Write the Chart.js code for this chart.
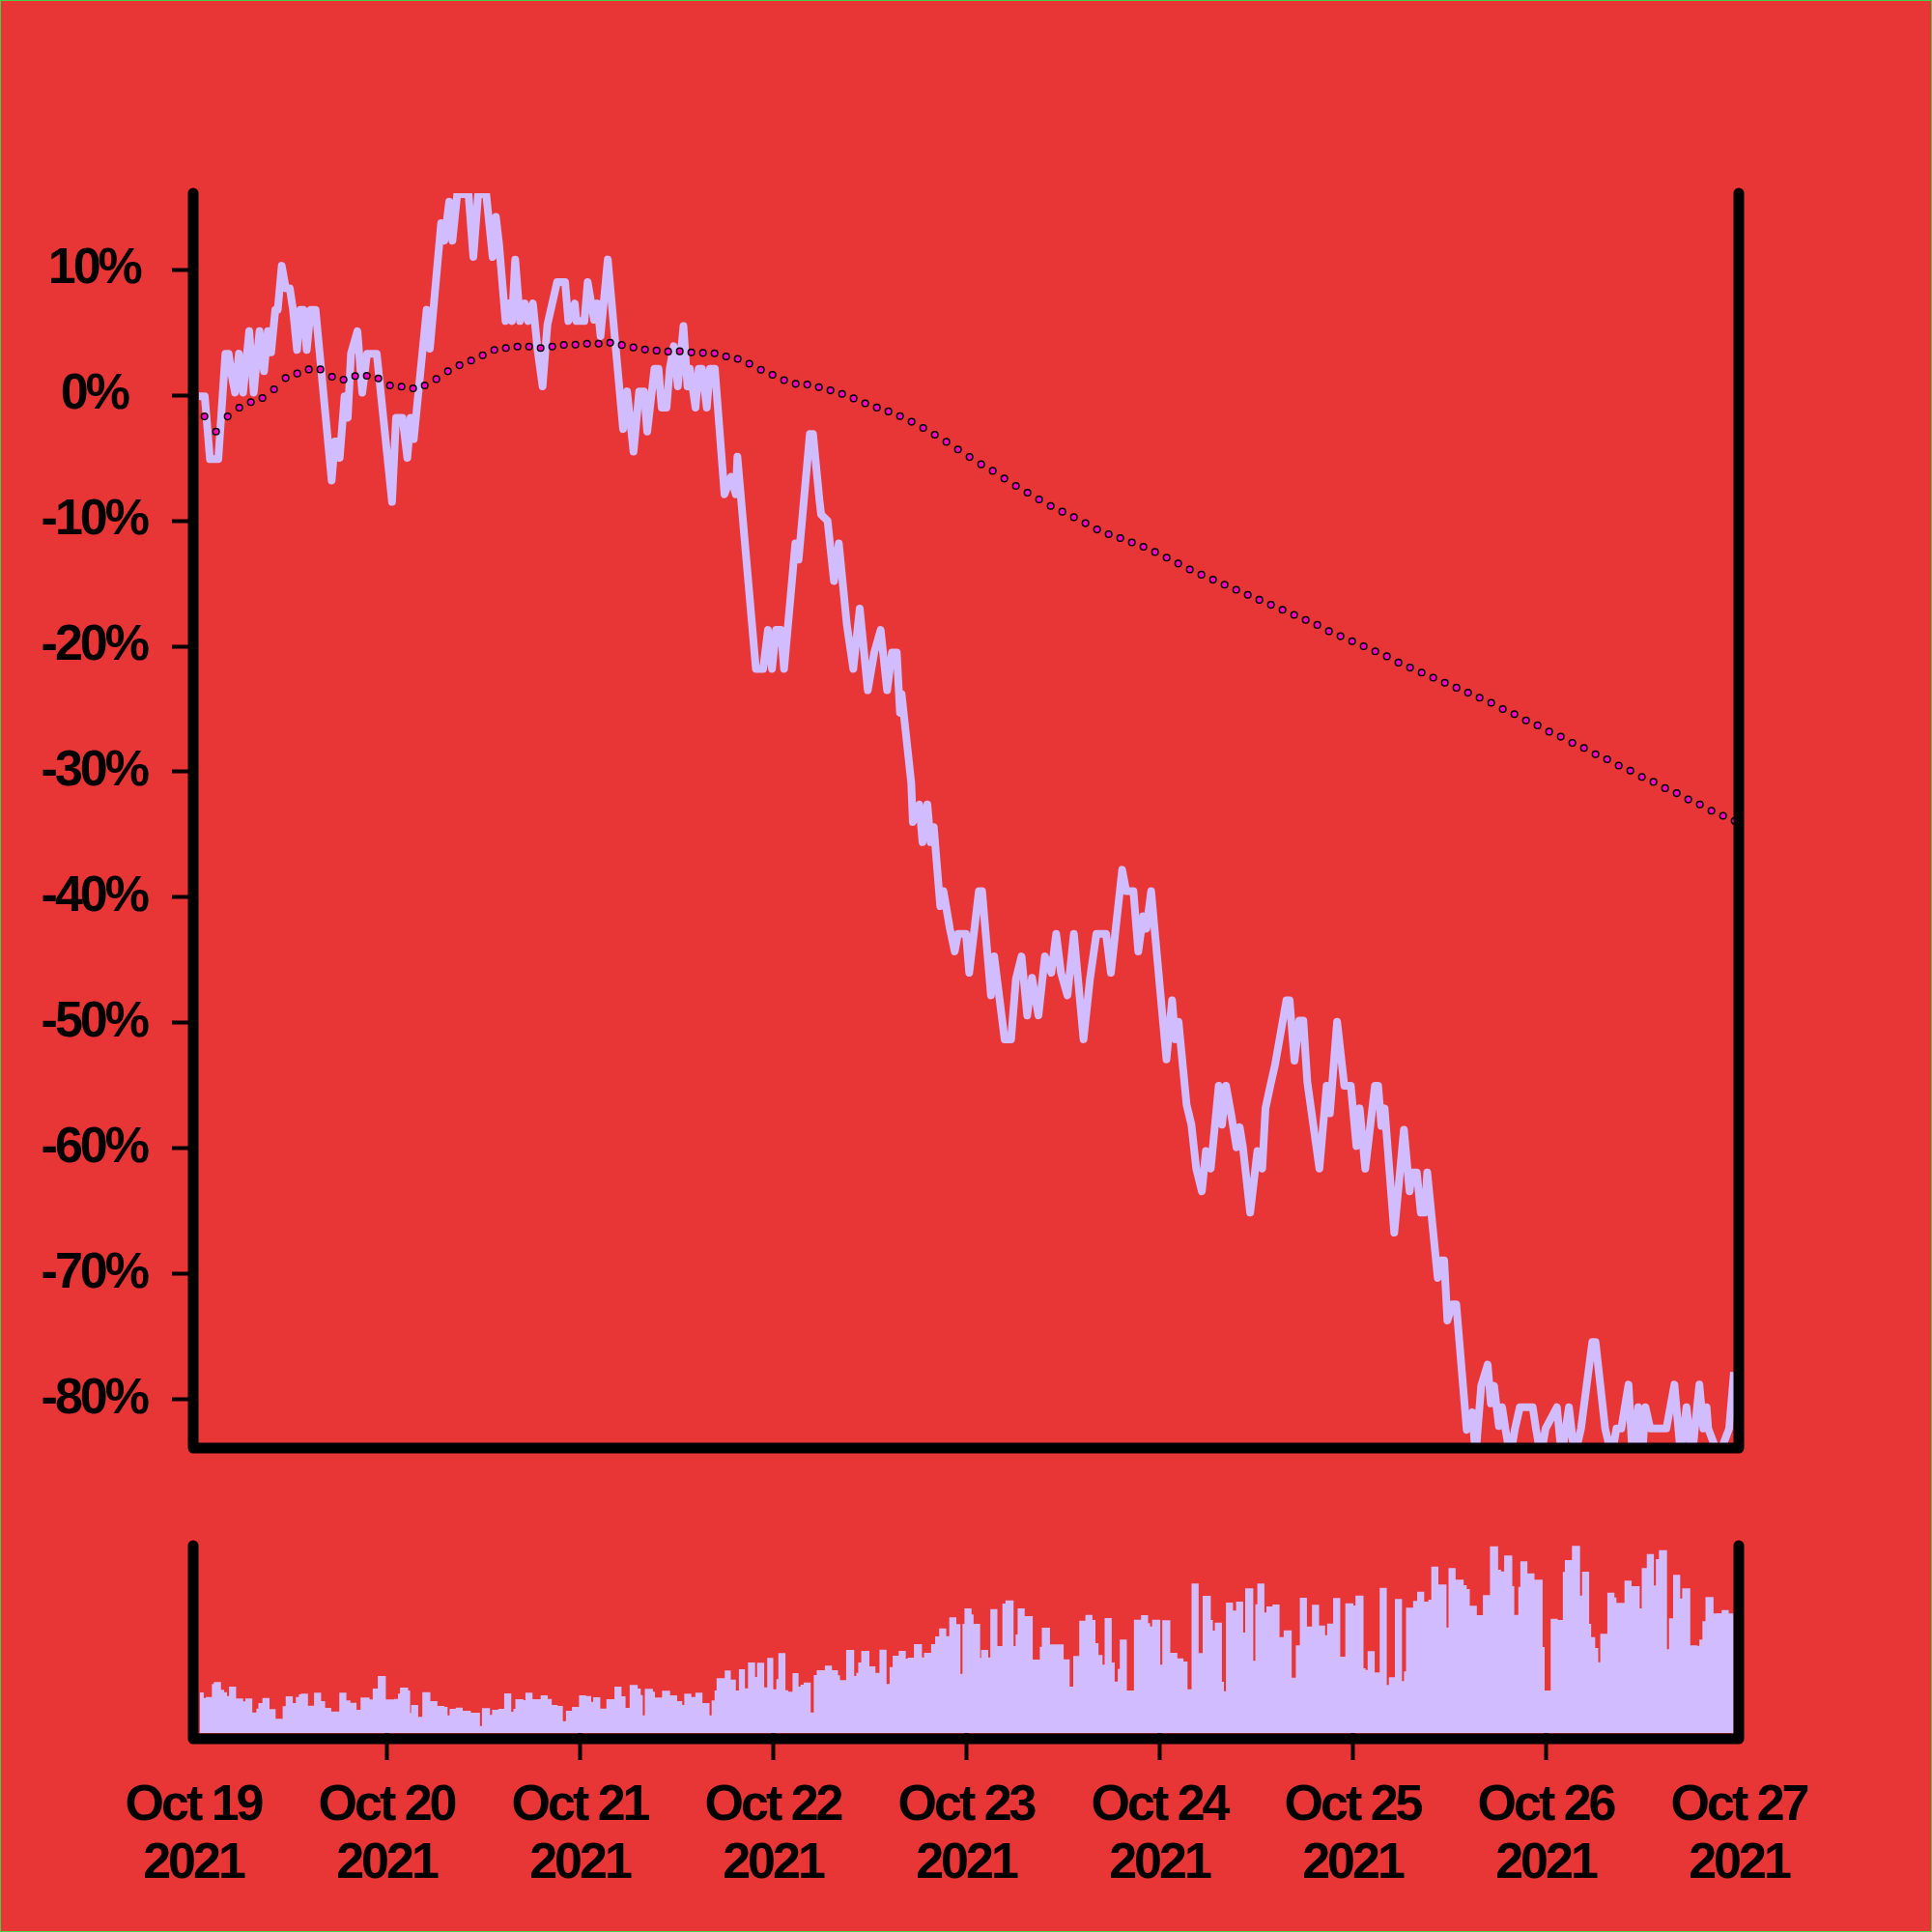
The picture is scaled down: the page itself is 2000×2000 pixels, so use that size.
<!DOCTYPE html>
<html>
<head>
<meta charset="utf-8">
<title>Change and volume</title>
<script src="https://cdn.jsdelivr.net/npm/chart.js@4.4.1/dist/chart.umd.min.js"></script>
<style>
  html, body { margin: 0; padding: 0; background: #e83535; }
  #page { position: relative; width: 2000px; height: 2000px; background: #e83535; overflow: hidden; }
  #page canvas { position: absolute; left: 0; }
  #main { top: 0; }
  #vol { top: 1540px; }
  #edge { position: absolute; inset: 0; box-sizing: border-box; border: 1px solid #45d045; pointer-events: none; }
</style>
</head>
<body>
<div id="page">
  <canvas id="main" width="2000" height="1600"></canvas>
  <canvas id="vol" width="2000" height="460"></canvas>
  <div id="edge"></div>
</div>
<script>
// hours since Oct 19 2021 00:00
const dayTickHours = [0, 24, 48, 72, 96, 120, 144, 168, 192];
const dayLabels = [
  ["Oct 19", "2021"], ["Oct 20", "2021"], ["Oct 21", "2021"],
  ["Oct 22", "2021"], ["Oct 23", "2021"], ["Oct 24", "2021"],
  ["Oct 25", "2021"], ["Oct 26", "2021"], ["Oct 27", "2021"],
];
const yTickValues = [10, 0, -10, -20, -30, -40, -50, -60, -70, -80];

// price change, % (turning points)
const priceHours = [
  0.72, 1.44, 2.08, 3.12, 4.0, 4.4, 4.8, 5.2, 5.68, 6.2,
  6.96, 7.52, 8.24, 8.8, 9.28, 9.68, 10.2, 10.5, 11.0, 11.5,
  12.0, 12.4, 12.9, 13.3, 13.7, 14.1, 14.6, 15.2, 17.2, 17.6,
  18.0, 18.2, 18.8, 19.2, 19.6, 20.4, 21.0, 21.6, 22.8, 24.7,
  25.2, 26.0, 26.6, 27.0, 27.4, 29.0, 29.4, 30.8, 31.2, 31.8,
  32.2, 32.8, 34.2, 34.8, 35.4, 36.4, 37.2, 37.6, 38.0, 38.8,
  39.2, 39.6, 40.0, 40.6, 41.2, 41.6, 42.2, 42.8, 43.4, 44.0,
  44.6, 45.2, 46.2, 46.6, 47.4, 47.6, 48.6, 49.0, 49.8, 50.2,
  50.6, 51.5, 53.4, 53.9, 54.7, 55.4, 56.0, 56.4, 57.3, 57.8,
  58.2, 58.8, 59.2, 59.7, 60.2, 60.9, 61.4, 61.7, 62.4, 62.8,
  63.2, 63.8, 64.2, 64.8, 66.0, 66.8, 67.4, 67.6, 69.9, 70.8,
  71.4, 71.9, 72.4, 73.0, 73.4, 74.8, 75.2, 76.6, 77.0, 77.8,
  78.0, 78.8, 79.6, 80.2, 81.2, 82.0, 82.8, 83.8, 84.6, 85.4,
  86.2, 86.8, 87.4, 87.8, 88.0, 89.2, 89.4, 90.2, 90.6, 91.2,
  91.6, 92.0, 92.8, 93.2, 94.0, 94.6, 95.0, 96.0, 96.4, 97.6,
  98.0, 99.1, 99.5, 100.8, 101.6, 102.2, 102.9, 103.6, 104.2, 105.0,
  105.8, 106.6, 107.2, 107.8, 108.6, 109.4, 110.6, 111.4, 112.2, 113.4,
  114.0, 115.4, 115.9, 116.8, 117.4, 118.0, 118.4, 119.0, 120.9, 121.6,
  122.0, 122.4, 123.4, 124.0, 124.6, 125.3, 125.8, 126.4, 127.4, 127.8,
  128.3, 129.0, 129.6, 130.0, 130.4, 131.3, 132.2, 132.8, 133.2, 133.8,
  134.4, 135.8, 136.2, 136.8, 137.4, 137.9, 138.4, 139.9, 140.8, 141.2,
  142.1, 143.0, 143.8, 144.5, 144.9, 145.6, 146.8, 147.2, 147.6, 148.0,
  149.2, 150.4, 151.1, 151.4, 152.0, 152.5, 153.0, 153.3, 154.6, 155.0,
  155.4, 155.8, 156.4, 156.9, 158.2, 158.9, 159.3, 160.0, 160.8, 161.2,
  161.6, 162.2, 162.6, 163.0, 163.6, 164.2, 164.8, 166.4, 166.8, 167.4,
  168.0, 169.4, 170.0, 170.9, 171.6, 172.4, 173.8, 174.2, 175.4, 176.2,
  176.8, 177.4, 178.3, 178.8, 179.5, 180.0, 180.4, 181.0, 183.0, 184.0,
  184.8, 185.5, 186.2, 187.1, 187.6, 188.0, 188.2, 189.5, 190.8, 191.4,
];
const priceChange = [
  -0.1, -0.1, -5.1, -5.1, 3.3, 3.3, 1.5, 0.2, 3.3, 0.2,
  5.1, 0.2, 5.1, 1.9, 5.1, 3.4, 6.8, 6.8, 10.3, 8.5,
  8.5, 6.8, 3.6, 6.8, 6.8, 3.6, 6.8, 6.8, -6.8, -3.7,
  -3.7, -5.0, -0.1, -1.8, 3.3, 5.1, 0.2, 3.3, 3.3, -8.5,
  -1.8, -1.8, -5.0, -1.8, -3.5, 6.8, 3.7, 13.7, 12.3, 15.4,
  12.3, 16.0, 16.0, 11.0, 16.0, 16.0, 11.0, 14.2, 12.0, 5.9,
  7.3, 5.9, 10.8, 5.9, 7.3, 5.9, 7.3, 3.5, 0.7, 5.6,
  7.3, 9.0, 9.0, 5.9, 7.3, 5.9, 5.9, 9.0, 6.0, 7.3,
  4.7, 10.8, -2.7, 0.3, -4.5, 0.3, 0.3, -2.9, 2.1, 2.1,
  -1.0, -1.0, 2.1, 3.9, 0.7, 5.5, 0.7, 2.1, -1.0, 2.1,
  2.1, -1.0, 2.1, 2.1, -7.9, -6.5, -7.9, -4.9, -21.8, -21.8,
  -18.7, -21.8, -18.7, -18.7, -21.8, -11.8, -13.1, -3.1, -3.1, -8.4,
  -9.5, -10.0, -14.8, -11.8, -18.3, -21.8, -17.0, -23.5, -20.5, -18.7,
  -23.5, -20.5, -20.5, -25.3, -23.8, -30.9, -34.0, -32.6, -35.6, -32.6,
  -35.6, -34.4, -40.7, -39.5, -42.5, -44.3, -42.9, -42.9, -46.0, -39.5,
  -39.5, -47.8, -44.7, -51.3, -51.3, -46.5, -44.7, -49.4, -46.4, -49.4,
  -44.7, -46.0, -42.9, -46.0, -47.8, -42.9, -51.3, -46.5, -42.9, -42.9,
  -46.0, -37.8, -39.5, -39.5, -44.3, -41.5, -42.5, -39.5, -52.9, -48.2,
  -51.3, -49.9, -56.5, -58.1, -61.6, -63.4, -60.2, -61.6, -55.0, -58.1,
  -55.0, -57.5, -59.9, -58.3, -59.9, -65.1, -60.2, -61.6, -56.8, -55.0,
  -53.3, -48.2, -48.2, -53.0, -49.8, -49.8, -54.7, -61.6, -55.0, -57.2,
  -49.9, -55.0, -55.0, -59.8, -56.8, -61.6, -55.0, -55.0, -58.2, -56.8,
  -66.7, -58.5, -63.4, -61.9, -61.9, -65.1, -65.1, -61.9, -70.3, -68.9,
  -68.9, -73.7, -72.4, -72.4, -82.4, -81.0, -84.5, -78.9, -77.2, -80.3,
  -78.9, -82.1, -80.6, -82.3, -84.5, -82.3, -80.6, -80.6, -82.3, -84.5,
  -82.3, -80.6, -84.5, -80.6, -84.5, -82.3, -75.4, -75.4, -82.3, -84.5,
  -82.3, -82.3, -78.8, -84.5, -80.6, -84.5, -80.6, -82.3, -82.3, -78.8,
  -84.5, -80.6, -84.5, -78.8, -82.3, -80.6, -82.3, -84.5, -82.3, -77.8,
];

// smoothed trend, one dot every 1.44 h
const trendStartHour = 1.4;
const trendStepHours = 1.44;
const trendChange = [
  -1.7, -2.9, -1.7, -1.0, -0.56, -0.23, 0.46, 1.36, 1.72, 2.05,
  2.05, 1.46, 1.23, 1.52, 1.54, 1.33, 0.77, 0.67, 0.54, 0.77,
  1.28, 1.9, 2.38, 2.75, 3.18, 3.6, 3.75, 3.87, 3.87, 3.75,
  3.87, 4.0, 4.02, 4.1, 4.1, 4.18, 3.99, 3.8, 3.63, 3.55,
  3.47, 3.49, 3.41, 3.36, 3.33, 3.08, 2.89, 2.5, 2.02, 1.62,
  1.2, 0.9, 0.84, 0.64, 0.38, 0.1, -0.26, -0.65, -0.99, -1.3,
  -1.67, -2.12, -2.61, -3.15, -3.72, -4.32, -4.93, -5.51, -6.03, -6.64,
  -7.23, -7.77, -8.31, -8.82, -9.28, -9.72, -10.2, -10.7, -11.08, -11.38,
  -11.73, -12.08, -12.49, -12.94, -13.41, -13.88, -14.3, -14.7, -15.1, -15.5,
  -15.9, -16.3, -16.7, -17.1, -17.5, -17.9, -18.3, -18.8, -19.2, -19.6,
  -20.0, -20.4, -20.8, -21.3, -21.7, -22.1, -22.5, -22.9, -23.3, -23.7,
  -24.1, -24.5, -25.0, -25.4, -25.9, -26.3, -26.8, -27.2, -27.7, -28.1,
  -28.6, -29.0, -29.5, -29.9, -30.4, -30.8, -31.3, -31.7, -32.2, -32.6,
  -33.1, -33.5, -33.9,
];

// volume: each value holds from its start hour to the next one
const volStart = [
  0.81, 1.31, 1.56, 2.32, 2.57, 3.45, 3.83, 4.2, 4.45, 5.33,
  6.21, 6.47, 7.34, 7.85, 8.1, 8.6, 9.48, 10.24, 11.11, 11.49,
  12.37, 12.75, 13.13, 13.38, 14.26, 15.01, 15.89, 16.39, 17.15, 18.15,
  19.03, 19.53, 20.29, 20.79, 21.92, 22.3, 22.93, 23.93, 24.94, 25.44,
  25.69, 26.7, 26.95, 27.07, 27.95, 28.46, 29.46, 30.34, 31.22, 31.6,
  31.85, 32.6, 33.48, 34.49, 35.62, 35.87, 36.87, 37.13, 37.88, 38.63,
  39.51, 39.77, 40.02, 41.02, 41.27, 42.15, 43.16, 44.04, 44.54, 45.29,
  45.92, 46.3, 47.05, 47.93, 48.81, 49.44, 49.69, 50.57, 51.33, 52.33,
  53.21, 53.71, 54.22, 55.22, 55.6, 55.85, 56.1, 57.11, 57.36, 58.24,
  59.24, 60.12, 60.75, 61.0, 61.88, 62.38, 63.26, 64.14, 64.4, 64.77,
  65.02, 66.03, 66.78, 67.41, 67.79, 68.54, 68.92, 69.8, 70.05, 70.93,
  71.31, 72.06, 72.44, 72.69, 73.57, 73.94, 74.45, 75.2, 75.45, 75.83,
  76.71, 77.09, 77.46, 78.47, 79.35, 80.1, 80.35, 81.11, 82.11, 82.36,
  82.61, 82.99, 84.0, 84.75, 85.25, 86.13, 86.51, 86.89, 87.64, 88.52,
  88.77, 89.53, 90.53, 90.78, 91.66, 92.17, 92.67, 93.55, 93.92, 94.8,
  95.31, 95.56, 95.81, 96.69, 96.94, 97.76, 97.88, 98.76, 99.02, 99.9,
  100.52, 100.9, 101.91, 102.16, 102.41, 103.29, 104.29, 105.17, 105.42, 106.43,
  108.13, 108.88, 109.32, 110.07, 110.83, 111.71, 112.08, 112.46, 112.96, 113.22,
  114.1, 114.47, 114.85, 115.1, 115.98, 116.86, 117.74, 118.62, 118.87, 119.12,
  120.13, 120.38, 121.38, 122.26, 123.02, 123.52, 124.02, 124.9, 125.4, 126.41,
  126.66, 126.91, 127.79, 128.04, 128.29, 129.17, 129.55, 130.43, 130.68, 131.69,
  131.94, 132.19, 133.07, 133.32, 134.07, 134.95, 135.46, 136.46, 136.97, 137.47,
  138.35, 138.98, 139.86, 140.61, 140.86, 141.61, 142.49, 143.12, 144.13, 144.38,
  145.38, 145.64, 145.89, 146.77, 147.39, 148.27, 148.53, 149.28, 150.16, 150.41,
  150.66, 151.54, 152.04, 152.92, 153.43, 153.8, 154.68, 155.69, 155.94, 156.82,
  157.82, 158.2, 158.58, 159.46, 160.21, 161.09, 162.1, 162.47, 162.85, 163.86,
  164.11, 164.61, 164.86, 165.74, 166.62, 167.63, 167.88, 168.63, 169.51, 170.14,
  170.39, 171.27, 172.28, 172.53, 173.41, 173.66, 174.16, 174.54, 174.79, 175.67,
  176.55, 176.8, 177.8, 178.68, 179.69, 179.94, 180.57, 181.45, 181.7, 182.08,
  183.08, 183.33, 183.84, 184.72, 184.97, 185.97, 186.85, 187.1, 187.48, 187.86,
  188.86, 189.24, 189.87, 190.75,
];
const volEndHour = 191.37;
const volAmount = [
  42, 36.3, 37.3, 50.7, 52.7, 44.7, 42.3, 38.3, 48, 35.7,
  32.7, 35.7, 21.3, 25.3, 31, 36.3, 24.7, 14.7, 27.7, 38,
  31, 37.3, 40, 40.7, 28.3, 41.7, 33, 26, 22.3, 41.7,
  33.7, 31.3, 24, 36.7, 34.7, 46, 59, 34.7, 35.3, 40.7,
  47, 44, 20.7, 29, 16.7, 42.3, 33, 28, 27, 18.3,
  25, 26.3, 23, 21, 7.3, 25.7, 18.7, 24, 25, 41,
  22, 25, 35, 34, 41.7, 35, 39, 35.3, 29, 28,
  12.3, 23, 27, 39, 38.3, 32.3, 37, 25.3, 35, 48,
  38, 26, 49.7, 46, 39.3, 18.3, 45.7, 42.7, 36.7, 43.7,
  39, 33, 29, 40.7, 37.3, 41.7, 31, 18.3, 33.7, 44,
  56.7, 64.7, 55.3, 44, 66, 46.3, 73, 58, 72.7, 47.3,
  77.7, 45.3, 55.7, 82.7, 44.3, 42.7, 62, 48, 50, 52.3,
  21.3, 60, 65, 69.7, 65, 59.7, 54.7, 86, 59, 62.3,
  73, 85, 69, 62.3, 86.3, 50.7, 68.3, 80, 85, 77,
  78, 92, 78.3, 83, 92, 100, 108.3, 100.3, 119.7, 112.7,
  61.3, 113, 129, 122.7, 113, 77.7, 86, 78.3, 128.3, 90,
  134, 137.3, 90, 102, 129, 121, 76, 89.3, 109, 91.7,
  76.3, 48, 79.7, 116.3, 122.3, 117, 93, 80.7, 70.7, 119,
  73, 53.3, 66.3, 96.7, 44, 117.3, 122, 113.7, 110.3, 117.3,
  70.7, 116.7, 83, 77.3, 74, 45.3, 154.7, 82.7, 142, 117,
  106, 114.3, 53, 43.3, 135, 126.7, 136, 104, 149.7, 74.7,
  133.3, 154.7, 124.7, 131, 133, 99.3, 106.3, 57.3, 90.7, 140,
  110.3, 132.7, 111.3, 101.3, 113.3, 139.7, 79, 134.3, 132, 142.3,
  67, 65.3, 84.7, 62.7, 150.3, 49.7, 57.7, 138.7, 53.7, 63.7,
  129.7, 136.7, 146.3, 136, 138, 172.3, 153.7, 109.3, 170.7, 158.7,
  153, 149, 131.7, 122, 142.7, 193.3, 169, 167.3, 183.7, 152,
  122.3, 151.3, 177.7, 165.3, 158.7, 89, 44, 118.3, 117, 166.7,
  179, 193.7, 142.3, 167, 113, 99.3, 88, 73.3, 102.7, 145.3,
  140.3, 134.7, 157.7, 152, 129, 170.7, 185.3, 152.7, 180, 189.3,
  86.7, 118.7, 163.7, 139.3, 149.7, 90.7, 90.3, 96.7, 115.7, 140.7,
  123.7, 124, 127.3, 123.7,
];

const LAVENDER = "#d0bcff";
const DOT = "#ff00c8";
const INK = "#000000";
const FONT = { family: "'Liberation Sans', Arial, sans-serif", weight: "bold", size: 52, lineHeight: 1.16 };

// labels in the reference are set tight
const tightText = {
  id: "tightText",
  beforeUpdate(chart) { chart.ctx.letterSpacing = "-3px"; },
  beforeDraw(chart) { chart.ctx.letterSpacing = "-3px"; },
};

// open frame with rounded ends: left, bottom, right
const frame = {
  id: "frame",
  afterDatasetsDraw(chart, args, opts) {
    const { ctx, chartArea: a } = chart;
    const bottom = a.bottom + (opts.drop || 0);
    ctx.save();
    ctx.strokeStyle = INK;
    ctx.lineWidth = opts.width;
    ctx.lineCap = "round";
    ctx.lineJoin = "round";
    ctx.beginPath();
    ctx.moveTo(a.left, a.top);
    ctx.lineTo(a.left, bottom);
    ctx.lineTo(a.right, bottom);
    ctx.lineTo(a.right, a.top);
    ctx.stroke();
    ctx.restore();
  },
};

const pricePoints = priceHours.map((h, i) => ({ x: h, y: priceChange[i] }));
const trendPoints = trendChange.map((v, i) => ({ x: trendStartHour + trendStepHours * i, y: v }));
const volPoints = volStart.map((h, i) => ({ x: h, y: volAmount[i] }));
volPoints.push({ x: volEndHour, y: volAmount[volAmount.length - 1] });

new Chart(document.getElementById("main"), {
  type: "line",
  data: {
    datasets: [
      {
        label: "Trend",
        data: trendPoints,
        showLine: false,
        pointRadius: 3.3,
        pointBackgroundColor: DOT,
        pointBorderColor: INK,
        pointBorderWidth: 1.5,
        order: 0,
      },
      {
        label: "Change",
        data: pricePoints,
        borderColor: LAVENDER,
        borderWidth: 8,
        borderJoinStyle: "round",
        pointRadius: 0,
        tension: 0,
        order: 1,
      },
    ],
  },
  options: {
    responsive: false,
    animation: false,
    events: [],
    layout: { padding: { left: 0, right: 200, top: 200, bottom: 101 } },
    plugins: {
      legend: { display: false },
      tooltip: { enabled: false },
      frame: { width: 11, drop: 0 },
    },
    scales: {
      x: { type: "linear", min: 0, max: 192, display: false },
      y: {
        min: -83.85,
        max: 16.08,
        afterBuildTicks: (s) => { s.ticks = yTickValues.map((v) => ({ value: v })); },
        afterFit: (s) => { s.width = 200; },
        grid: { drawOnChartArea: false, drawTicks: true, tickLength: 22, tickWidth: 4, color: INK },
        border: { display: false },
        ticks: {
          color: INK,
          font: FONT,
          padding: 26,
          crossAlign: "center",
          callback: (v) => v + "%",
        },
      },
    },
  },
  plugins: [tightText, frame],
});

new Chart(document.getElementById("vol"), {
  type: "line",
  data: {
    datasets: [
      {
        label: "Volume",
        data: volPoints,
        stepped: true,
        fill: "start",
        backgroundColor: LAVENDER,
        borderColor: LAVENDER,
        borderWidth: 0,
        pointRadius: 0,
      },
    ],
  },
  options: {
    responsive: false,
    animation: false,
    events: [],
    layout: { padding: { left: 200, right: 200, top: 60, bottom: 0 } },
    plugins: {
      legend: { display: false },
      tooltip: { enabled: false },
      frame: { width: 11, drop: 6 },
    },
    scales: {
      x: {
        type: "linear",
        min: 0,
        max: 192,
        afterBuildTicks: (s) => { s.ticks = dayTickHours.map((v) => ({ value: v })); },
        afterFit: (s) => { s.height = 206; },
        grid: {
          drawOnChartArea: false,
          drawTicks: true,
          tickLength: 28,
          tickWidth: 4,
          // the two end ticks are hidden in the reference
          color: (c) => (c.index === 0 || c.index === dayTickHours.length - 1 ? "rgba(0,0,0,0)" : INK),
        },
        border: { display: false },
        ticks: {
          color: INK,
          font: FONT,
          padding: 17,
          maxRotation: 0,
          autoSkip: false,
          callback: (v, i) => dayLabels[i],
        },
      },
      y: { display: false, min: 0, max: 194 },
    },
  },
  plugins: [tightText, frame],
});
</script>
</body>
</html>
